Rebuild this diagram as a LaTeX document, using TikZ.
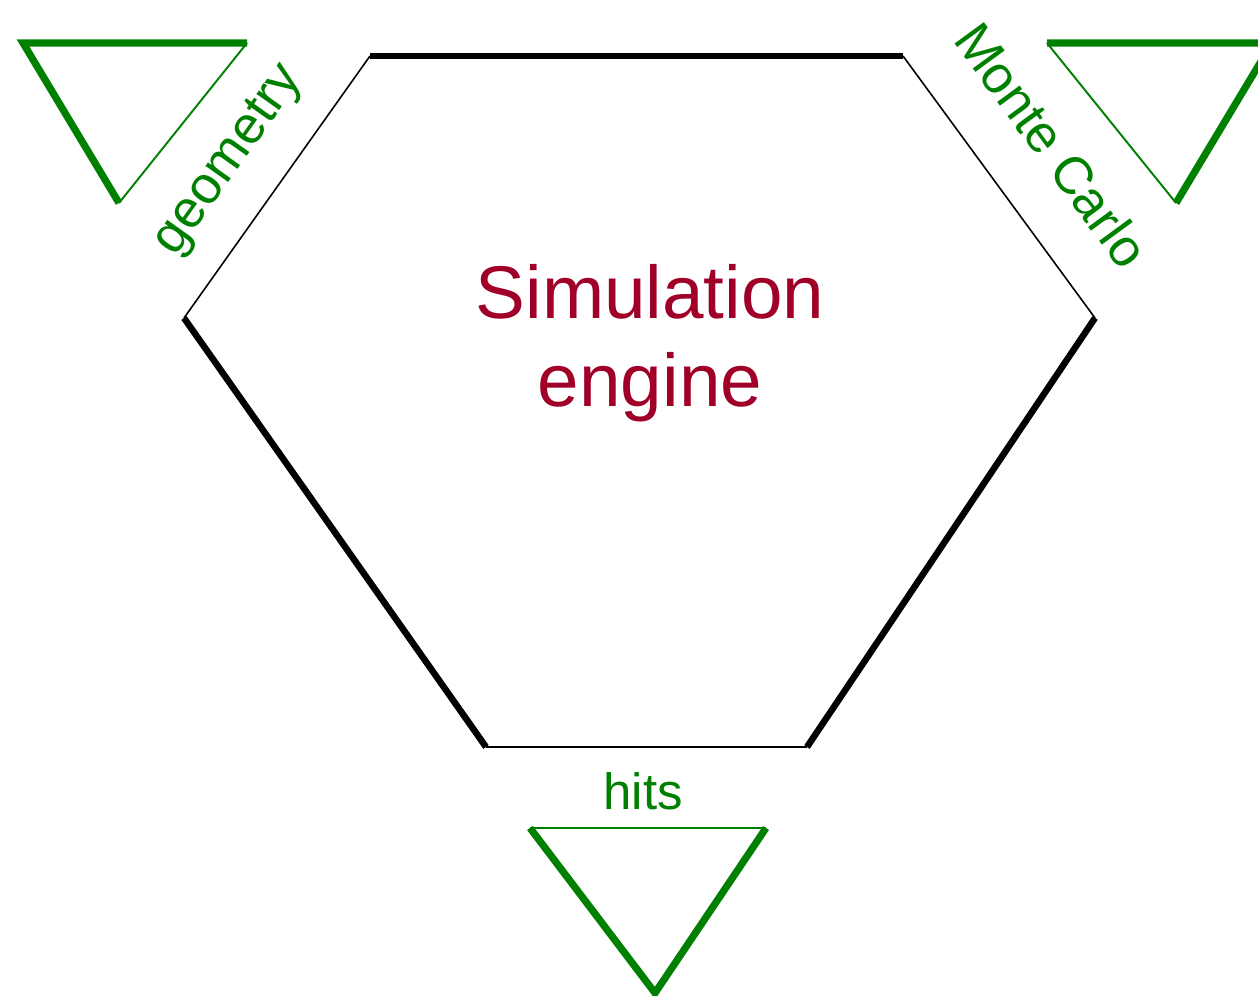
\documentclass[tikz,border=0pt]{standalone}
\usepackage{fontspec}
\setmainfont{Liberation Sans}
\definecolor{simred}{RGB}{160,0,40}
\definecolor{lblgreen}{RGB}{0,128,0}
\begin{document}
\begin{tikzpicture}[x=0.02cm,y=-0.02cm,
  hexthick/.style={line width=3.7pt,black,line cap=butt},
  hexthin/.style={line width=0.9pt,black},
  trithick/.style={line width=4.1pt,lblgreen},
  trithin/.style={line width=1.1pt,lblgreen},
  lbl/.style={text=lblgreen,font=\fontsize{29}{34}\selectfont,inner sep=0pt},
  rlbl/.style={text=lblgreen,font=\fontsize{30}{35}\selectfont,inner sep=0pt},
  title/.style={text=simred,font=\fontsize{42.5}{50}\selectfont,align=center,inner sep=0pt}]
\useasboundingbox (0,0) rectangle (1258,996);
\clip (0,0) rectangle (1258,996);
% hexagon corners
\coordinate (h1) at (370,56);
\coordinate (h2) at (903,56);
\coordinate (h3) at (1095,318);
\coordinate (h4) at (807,747);
\coordinate (h5) at (486,747);
\coordinate (h6) at (184,318);
\draw[hexthick] (h1) -- (h2);
\draw[hexthin] (h2) -- (h3);
\draw[hexthick] (h3) -- (h4);
\draw[hexthin] (h4) -- (h5);
\draw[hexthick] (h5) -- (h6);
\draw[hexthin] (h6) -- (h1);
% geometry triangle
\coordinate (g1) at (23,43);
\coordinate (g2) at (247,43);
\coordinate (g3) at (119,203);
\draw[trithick] (g3) -- (g1) -- (g2);
\draw[trithin] (g2) -- (g3);
% Monte Carlo triangle
\coordinate (m1) at (1047,43);
\coordinate (m2) at (1272,43);
\coordinate (m3) at (1176,203);
\draw[trithick] (m1) -- (m2) -- (m3);
\draw[trithin] (m3) -- (m1);
% hits triangle
\coordinate (t1) at (530,828);
\coordinate (t2) at (766,828);
\coordinate (t3) at (655,993);
\draw[trithick] (t1) -- (t3) -- (t2);
\draw[trithin] (t1) -- (t2);
% labels
\node[title] (sim) at (650,343) {Simulation\\engine};
\node[rlbl,rotate=54.6] (geo) at (230,161) {geometry};
\node[rlbl,rotate=-53.8] (mc) at (1052,145) {Monte Carlo};
\node[lbl,anchor=base] (hits) at (643,809) {hits};
\end{tikzpicture}
\end{document}
